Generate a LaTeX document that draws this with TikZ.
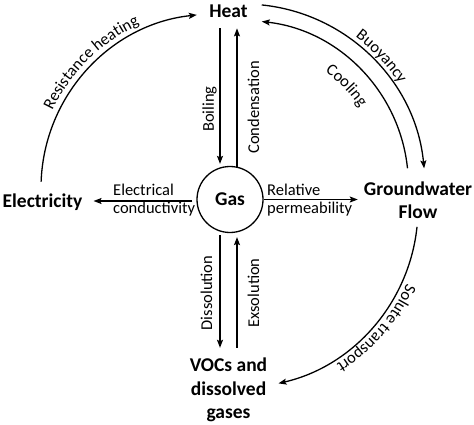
\documentclass[tikz,border=0pt]{standalone}
\usepackage{fontspec}
\setmainfont{Carlito}
\usetikzlibrary{arrows.meta,calc,decorations.text}
\newcommand\NodeFont{\fontsize{19.5}{23.5}\selectfont\bfseries}
\newcommand\LabFont{\fontsize{16.5}{18}\selectfont}
\begin{document}
\begin{tikzpicture}[x=1pt,y=1pt,
  main/.style={font=\NodeFont, inner sep=0pt, align=center},
  lab/.style={font=\LabFont, inner sep=0pt},
  arr/.style={line width=1.3pt, -{Stealth[length=8pt,width=6pt,inset=1.5pt]}},
]
\useasboundingbox (0,0) rectangle (474,424);
% main nodes
\node[main, anchor=base] (heat) at (228.5,406) {Heat};
\node[main, circle, draw, line width=1.3pt, minimum size=66pt] (gas) at (230,224.5) {Gas};
\node[main, anchor=base] (elec) at (42.5,217) {Electricity};
\node[main] (gw) at (418,224) {Groundwater\\Flow};
\node[main] (voc) at (228.5,34) {VOCs and\\dissolved\\gases};
% vertical arrows
\draw[arr] ($(gas.center |- heat.south)+(-10,-10)$) -- ($(gas.north)+(-10,2)$);
\draw[arr] ($(gas.north)+(7,-1.5)$) -- ($(gas.center |- heat.south)+(7,-10)$);
\draw[arr] ($(gas.south)+(-10,-2)$) -- ($(gas.center |- voc.north)+(-10,10)$);
\draw[arr] ($(gas.center |- voc.north)+(7,10)$) -- ($(gas.south)+(7,-4)$);
% horizontal arrows
\draw[arr] ($(gas.west)+(-4,-1.5)$) -- ($(elec.east |- gas.west)+(11,-1.5)$);
\draw[arr] (gas.east) -- ($(gw.west |- gas.east)+(-6,0)$);
% labels
\node[lab, align=left, anchor=west] (eclab) at (113,224) {Electrical\\conductivity};
\node[lab, align=left, anchor=west] (rplab) at (267,224) {Relative\\permeability};
\node[lab, rotate=90] (boil) at (209.5,315) {Boiling};
\node[lab, rotate=90] (cond) at (253.5,316.5) {Condensation};
\node[lab, rotate=90] (diss) at (206.5,131) {Dissolution};
\node[lab, rotate=90] (exso) at (253.5,131) {Exsolution};
% arcs
\coordinate (cL) at (215,236);
\coordinate (cR) at (243.4,238.5);
\coordinate (cS) at (238,216);
\coordinate (rhS) at ($(cL)+(177.9:174)$);
\draw[arr] (rhS) arc[start angle=177.9, end angle=96, radius=174];
\coordinate (buS) at ($(cR)+(84.2:181.5)$);
\draw[arr] (buS) arc[start angle=84.2, end angle=5.4, radius=181.5];
\coordinate (coS) at ($(cR)+(6:165)$);
\draw[arr] (coS) arc[start angle=6, end angle=83.6, radius=165];
\coordinate (stS) at ($(cS)+(-6:180)$);
\draw[arr] (stS) arc[start angle=-6, end angle=-77, radius=180];
% arc labels
\path[decorate, decoration={text along path, text align=center, text={|\LabFont|Resistance heating}}]
  ($(cL)+(169.7:180)$) arc[start angle=169.7, end angle=99.7, radius=180];
\path[decorate, decoration={text along path, text align=center, text={|\LabFont|Buoyancy}}]
  ($(cR)+(73:186)$) arc[start angle=73, end angle=13, radius=186];
\path[decorate, decoration={text along path, text align=center, text={|\LabFont|Cooling}}]
  ($(cR)+(74:140)$) arc[start angle=74, end angle=14, radius=140];
\path[decorate, decoration={text along path, text align=center, text={|\LabFont|Solute transport}}]
  ($(cS)+(-6:185)$) arc[start angle=-6, end angle=-76, radius=185];
\end{tikzpicture}
\end{document}
